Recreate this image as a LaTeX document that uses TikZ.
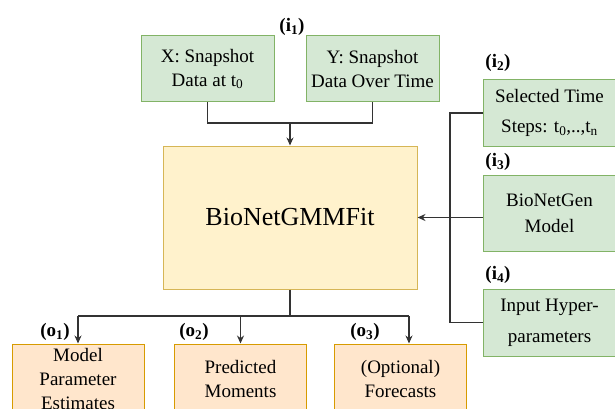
\documentclass[tikz,border=0pt]{standalone}
\usepackage{fontspec}
\setmainfont{Liberation Serif}
\newfontfamily\dfont{Liberation Serif}
\usetikzlibrary{arrows.meta,calc}
\definecolor{inFill}{HTML}{D5E8D4}
\definecolor{inLine}{HTML}{82B366}
\definecolor{outFill}{HTML}{FFE6CC}
\definecolor{outLine}{HTML}{D79B00}
\definecolor{coreFill}{HTML}{FFF2CC}
\definecolor{coreLine}{HTML}{D6B656}
\definecolor{wire}{HTML}{333333}
\tikzset{
  box/.style={rectangle, draw, line width=1pt, inner sep=0pt, align=center,
    font=\dfont\fontsize{19}{24}\selectfont},
  inbox/.style={box, fill=inFill, draw=inLine},
  outbox/.style={box, fill=outFill, draw=outLine, minimum width=132pt, minimum height=70pt},
  corebox/.style={box, fill=coreFill, draw=coreLine, font=\dfont\fontsize{26}{30}\selectfont},
  tag/.style={font=\dfont\bfseries\fontsize{19}{22}\selectfont, inner sep=0pt},
  wireline/.style={draw=wire, line width=1.2pt},
  arr/.style={wireline, -{Stealth[length=8pt,width=7pt]}}
}
\begin{document}
\begin{tikzpicture}[x=1pt, y=-1pt]
\useasboundingbox (0,0) rectangle (615,409);
\clip (0,0) rectangle (615,409);

% inputs on top
\node[inbox, minimum width=133pt, minimum height=66pt] (xs) at (207.5,69)
  {X: Snapshot\\Data at t\textsubscript{0}};
\node[inbox, minimum width=133pt, minimum height=66pt] (ys) at (372.5,69)
  {Y: Snapshot\\Data Over Time};

% central estimator
\node[corebox, minimum width=254pt, minimum height=143pt] (core) at (290,217.5) {BioNetGMMFit};

% inputs on the right
\node[inbox, minimum width=133pt, minimum height=66pt,
  font=\dfont\fontsize{19}{30}\selectfont] (sel) at (549.5,113)
  {Selected Time\\Steps: t\textsubscript{0},..,t\textsubscript{n}};
\node[inbox, minimum width=133pt, minimum height=76pt,
  font=\dfont\fontsize{19}{26}\selectfont] (bng) at (549.5,213)
  {BioNetGen\\Model};
\node[inbox, minimum width=133pt, minimum height=67pt,
  font=\dfont\fontsize{19}{31}\selectfont] (hyp) at (549.5,322.5)
  {Input Hyper-\\parameters};

% outputs
\node[outbox] (oa) at (78,379) {Model\\Parameter\\Estimates};
\node[outbox] (ob) at (240.5,379) {Predicted\\Moments};
\node[outbox] (oc) at (400.5,379) {(Optional)\\Forecasts};

% labels
\node[tag] (ti1) at (292,27) {(i\textsubscript{1})};
\node[tag] (ti2) at (498,63) {(i\textsubscript{2})};
\node[tag] (ti3) at (498,162) {(i\textsubscript{3})};
\node[tag] (ti4) at (498,275) {(i\textsubscript{4})};
\node[tag] (to1) at (55,332) {(o\textsubscript{1})};
\node[tag] (to2) at (194,332) {(o\textsubscript{2})};
\node[tag] (to3) at (365,332) {(o\textsubscript{3})};

% top merge
\coordinate (topjoin) at (core.north |- 0,123);
\draw[wireline] (xs.south) |- (topjoin) -| (ys.south);
\draw[arr] (topjoin) -- (core.north);

% right-hand bus
\coordinate (busx) at (450,0);
\draw[wireline] (sel.west) -- (sel.west -| busx) -- (hyp.west -| busx) -- (hyp.west);
\draw[arr] (core.east -| bng.west) -- (core.east);

% output split
\coordinate (botjoin) at (core.south |- 0,316);
\coordinate (ocin) at ($(oc.north)+(8.5,0)$);
\draw[wireline] (core.south) -- (botjoin);
\draw[wireline] (oa.north |- botjoin) -- (ocin |- botjoin);
\draw[arr] (oa.north |- botjoin) -- (oa.north);
\draw[arr] (ob.north |- botjoin) -- (ob.north);
\draw[arr] (ocin |- botjoin) -- (ocin);
\end{tikzpicture}
\end{document}
